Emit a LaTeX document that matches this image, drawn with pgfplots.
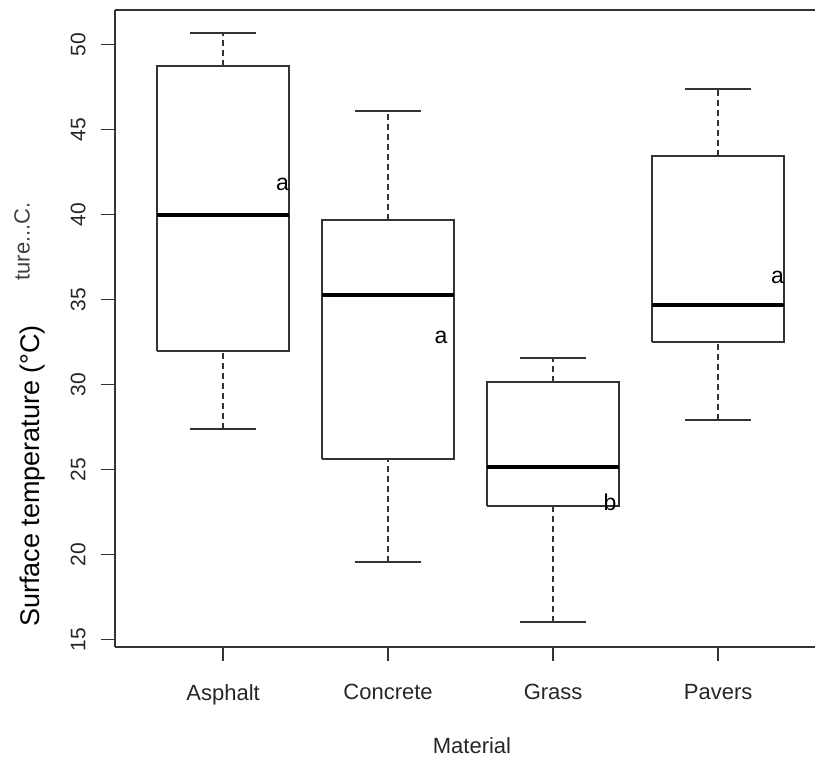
\documentclass[border=0pt]{standalone}
\usepackage{fontspec}
\setmainfont{Liberation Sans}
\usepackage{pgfplots}
\pgfplotsset{compat=1.18}

\begin{document}
\begin{tikzpicture}[x=1pt,y=1pt]
\useasboundingbox (-115,-110) rectangle (700,647);
\begin{axis}[
    at={(0,0)}, anchor=south west,
    scale only axis, width=700pt, height=637pt,
    xmin=0.345, xmax=4.587, ymin=14.57, ymax=52.03,
    axis x line*=bottom, axis y line*=left,
    axis line style={black!80, line width=1.5pt},
    tick align=outside, major tick length=14pt,
    tick style={black!80, line width=1.5pt},
    xtick={1,2,3,4}, xticklabels={Asphalt,Concrete,Grass,Pavers},
    ytick={15,20,...,50},
    /pgf/number format/assume math mode=true,
    ticklabel style={font=\fontsize{21}{25}\selectfont, text=black!85},
    xticklabel style={font=\fontsize{22}{26}\selectfont},
    yticklabel style={rotate=90, anchor=south},
    yticklabel shift=12pt, xticklabel shift=20pt,
    whisk/.style={black!80, line width=1.5pt, dash pattern=on 6pt off 4pt},
    cap/.style={black!80, line width=1.5pt},
    box/.style={black!80, line width=1.5pt, line join=miter},
    med/.style={black, line width=4.5pt},
]
% Asphalt: 27.39 | 31.98 | 39.98 | 48.75 | 50.69
\addplot[whisk] coordinates {(1,27.39)(1,31.98)};
\addplot[whisk] coordinates {(1,48.75)(1,50.69)};
\addplot[cap] coordinates {(0.8,27.39)(1.2,27.39)};
\addplot[cap] coordinates {(0.8,50.69)(1.2,50.69)};
\addplot[box] coordinates {(0.6,31.98)(1.4,31.98)(1.4,48.75)(0.6,48.75)(0.6,31.98)};
\addplot[med] coordinates {(0.6,39.98)(1.4,39.98)};

% Concrete: 19.57 | 25.63 | 35.28 | 39.69 | 46.10
\addplot[whisk] coordinates {(2,19.57)(2,25.63)};
\addplot[whisk] coordinates {(2,39.69)(2,46.10)};
\addplot[cap] coordinates {(1.8,19.57)(2.2,19.57)};
\addplot[cap] coordinates {(1.8,46.10)(2.2,46.10)};
\addplot[box] coordinates {(1.6,25.63)(2.4,25.63)(2.4,39.69)(1.6,39.69)(1.6,25.63)};
\addplot[med] coordinates {(1.6,35.28)(2.4,35.28)};

% Grass: 16.04 | 22.86 | 25.16 | 30.16 | 31.57
\addplot[whisk] coordinates {(3,16.04)(3,22.86)};
\addplot[whisk] coordinates {(3,30.16)(3,31.57)};
\addplot[cap] coordinates {(2.8,16.04)(3.2,16.04)};
\addplot[cap] coordinates {(2.8,31.57)(3.2,31.57)};
\addplot[box] coordinates {(2.6,22.86)(3.4,22.86)(3.4,30.16)(2.6,30.16)(2.6,22.86)};
\addplot[med] coordinates {(2.6,25.16)(3.4,25.16)};

% Pavers: 27.92 | 32.51 | 34.69 | 43.45 | 47.39
\addplot[whisk] coordinates {(4,27.92)(4,32.51)};
\addplot[whisk] coordinates {(4,43.45)(4,47.39)};
\addplot[cap] coordinates {(3.8,27.92)(4.2,27.92)};
\addplot[cap] coordinates {(3.8,47.39)(4.2,47.39)};
\addplot[box] coordinates {(3.6,32.51)(4.4,32.51)(4.4,43.45)(3.6,43.45)(3.6,32.51)};
\addplot[med] coordinates {(3.6,34.69)(4.4,34.69)};

% group letters
\node[font=\fontsize{23}{27}\selectfont] at (axis cs:1.36,41.75) {a};
\node[font=\fontsize{23}{27}\selectfont] at (axis cs:2.32,32.75) {a};
\node[font=\fontsize{23}{27}\selectfont] at (axis cs:3.345,23.1) {b};
\node[font=\fontsize{23}{27}\selectfont] at (axis cs:4.36,36.33) {a};

% top border of the plot box
\draw[black!80, line width=1.5pt] (rel axis cs:0,1) -- (rel axis cs:1,1);
\end{axis}

\node[font=\fontsize{22}{26}\selectfont, text=black!85] at (357,-99) {Material};
\node[rotate=90, font=\fontsize{27}{32}\selectfont] at (-82,171) {Surface temperature (°C)};
\node[rotate=90, anchor=east, inner sep=0pt, font=\fontsize{22}{26}\selectfont, text=black!75] at (-93,445) {ture...C.};
\end{tikzpicture}
\end{document}
